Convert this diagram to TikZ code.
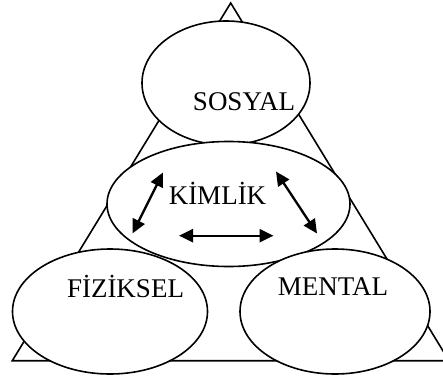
\documentclass[tikz,border=0pt]{standalone}
\usepackage{fontspec}
\setmainfont{Liberation Serif}
\usetikzlibrary{arrows.meta}
\begin{document}
\begin{tikzpicture}[x=1pt,y=-1pt,
  outline/.style={line width=1.6pt},
  lbl/.style={font=\fontsize{27}{31}\selectfont,inner sep=0pt,anchor=center},
  link/.style={line width=2.3pt,{Triangle[width=13pt,length=14pt]}-{Triangle[width=13pt,length=14pt]}}]
  \useasboundingbox (0,0) rectangle (443,379);
  % outer triangle
  \coordinate (apex) at (230.7,3);
  \coordinate (bl) at (12.3,360.7);
  \coordinate (br) at (449,360.7);
  \draw[outline,line join=miter] (apex) -- (bl) -- (br) -- cycle;
  % the four ellipses, each painted over what lies beneath
  \draw[outline,fill=white] (226,83) ellipse [x radius=84,y radius=62];
  \draw[outline,fill=white] (228.5,204) ellipse [x radius=121.5,y radius=62.5];
  \draw[outline,fill=white] (110,311.5) ellipse [x radius=97.5,y radius=62.5];
  \draw[outline,fill=white] (335,311.5) ellipse [x radius=95,y radius=62.5];
  % labels
  \node[lbl] (sosyal) at (244,101.5) {SOSYAL};
  \node[lbl] (kimlik) at (217.5,193) {KİMLİK};
  \node[lbl] (fiziksel) at (125.5,286.5) {FİZİKSEL};
  \node[lbl] (mental) at (333,286.5) {MENTAL};
  % arrows between the parts
  \coordinate (a1) at (163,172.5);
  \coordinate (a2) at (132.5,233.5);
  \coordinate (b1) at (276,171.5);
  \coordinate (b2) at (317,233.5);
  \coordinate (c1) at (179,235.7);
  \coordinate (c2) at (273.5,235.7);
  \draw[link] (a1) -- (a2);
  \draw[link] (b1) -- (b2);
  \draw[link] (c1) -- (c2);
\end{tikzpicture}
\end{document}
